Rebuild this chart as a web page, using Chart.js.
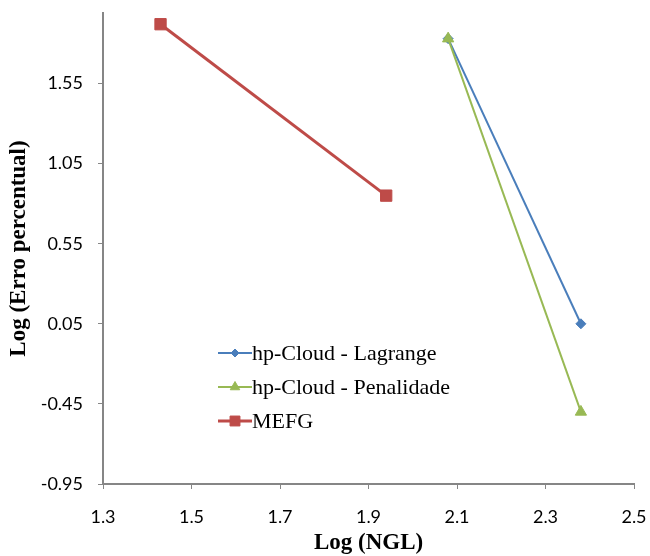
<!DOCTYPE html>
<html>
<head>
<meta charset="utf-8">
<script src="https://cdn.jsdelivr.net/npm/chart.js@4/dist/chart.umd.min.js"></script>
<style>
  html, body { margin: 0; padding: 0; background: #fff; }
  #wrap { width: 650px; height: 556px; }
</style>
</head>
<body>
<div id="wrap"><canvas id="chart" width="650" height="556"></canvas></div>
<script>
// Log(NGL) vs Log(erro percentual) for each method
const lagrangeX = [2.08, 2.38];
const lagrangeY = [1.83, 0.05];
const penalX = [2.08, 2.38];
const penalY = [1.83, -0.50];
const mefgX = [1.43, 1.94];
const mefgY = [1.92, 0.85];

const xTicks = [1.3, 1.5, 1.7, 1.9, 2.1, 2.3, 2.5];
const yTicks = [-0.95, -0.45, 0.05, 0.55, 1.05, 1.55];

function pts(xs, ys) {
  return xs.map((x, i) => ({ x: x, y: ys[i] }));
}

const axisGray = "#868686";
const tickFont = { family: "Lato, 'Open Sans', sans-serif", size: 18 };
const titleFont = { family: "'Liberation Serif', 'Times New Roman', serif", size: 23, weight: "bold", lineHeight: 1 };

// legend drawn inside the plot, below the lines
const insideLegend = {
  id: "insideLegend",
  afterDraw(chart) {
    const c = chart.ctx;
    const x0 = 218, y0 = 353, gap = 34;
    chart.data.datasets.forEach((ds, i) => {
      const y = y0 + i * gap;
      c.save();
      c.strokeStyle = ds.borderColor;
      c.fillStyle = ds.backgroundColor;
      c.lineWidth = ds.borderWidth;
      c.beginPath();
      c.moveTo(x0, y);
      c.lineTo(x0 + 34, y);
      c.stroke();
      c.lineWidth = 1;
      Chart.helpers.drawPoint(c, {
        pointStyle: ds.pointStyle,
        radius: ds.pointRadius - 1,
        rotation: 0,
        borderWidth: 1
      }, x0 + 17, y);
      c.fillStyle = "#000";
      c.font = "22px 'Liberation Serif', 'Times New Roman', serif";
      c.textBaseline = "middle";
      c.fillText(ds.label, x0 + 34, y + 1);
      c.restore();
    });
  }
};

// keep the plot edges fixed regardless of tick label sizes
function noEdgePadding(axis) {
  axis.paddingTop = 0;
  axis.paddingBottom = 0;
  axis.paddingLeft = 0;
  axis.paddingRight = 0;
}

const ctx = document.getElementById("chart").getContext("2d");

new Chart(ctx, {
  type: "line",
  data: {
    datasets: [
      {
        label: "hp-Cloud - Lagrange",
        data: pts(lagrangeX, lagrangeY),
        borderColor: "#4A7EBB",
        backgroundColor: "#4A7EBB",
        borderWidth: 2,
        pointStyle: "rectRot",
        pointRadius: 5,
        pointBorderWidth: 1,
        order: 1,
      },
      {
        label: "hp-Cloud - Penalidade",
        data: pts(penalX, penalY),
        borderColor: "#98B954",
        backgroundColor: "#98B954",
        borderWidth: 2,
        pointStyle: "triangle",
        pointRadius: 6.5,
        pointBorderWidth: 1,
        order: 0,
      },
      {
        label: "MEFG",
        data: pts(mefgX, mefgY),
        borderColor: "#BE4B48",
        backgroundColor: "#BE4B48",
        borderWidth: 3,
        pointStyle: "rect",
        pointRadius: 8,
        pointBorderWidth: 1,
        order: 2,
      },
    ],
  },
  options: {
    responsive: false,
    animation: false,
    layout: { padding: { top: 13, right: 16, left: 0, bottom: 0 } },
    plugins: {
      legend: { display: false },
      tooltip: { enabled: false },
    },
    scales: {
      x: {
        type: "linear",
        min: 1.3,
        max: 2.5,
        afterBuildTicks: (axis) => { axis.ticks = xTicks.map((v) => ({ value: v })); },
        afterFit: (axis) => { axis.height = 72; noEdgePadding(axis); },
        ticks: {
          font: tickFont,
          color: "#000",
          padding: 17,
          callback: (v) => v.toFixed(1),
        },
        grid: { drawOnChartArea: false, color: axisGray, tickLength: 5 },
        border: { color: axisGray, width: 2 },
        title: { display: true, text: "Log (NGL)", font: titleFont, color: "#000", padding: { top: 1, bottom: 1 } },
      },
      y: {
        type: "linear",
        min: -0.95,
        max: 1.99,
        afterBuildTicks: (axis) => { axis.ticks = yTicks.map((v) => ({ value: v })); },
        afterFit: (axis) => { axis.width = 103; noEdgePadding(axis); },
        ticks: {
          font: tickFont,
          color: "#000",
          padding: 15,
          callback: (v) => v.toFixed(2),
        },
        grid: { drawOnChartArea: false, color: axisGray, tickLength: 5 },
        border: { color: axisGray, width: 2 },
        title: { display: true, text: "Log (Erro percentual)", font: titleFont, color: "#000", padding: { top: 8, bottom: 8 } },
      },
    },
  },
  plugins: [insideLegend],
});
</script>
</body>
</html>
